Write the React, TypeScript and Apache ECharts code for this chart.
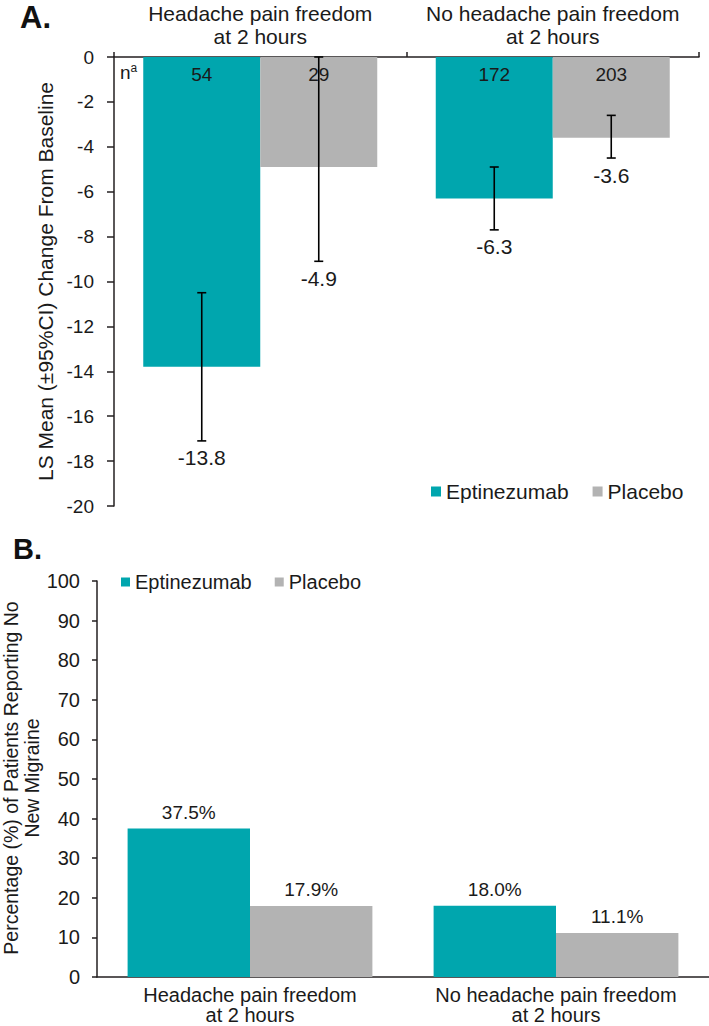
import React, { useEffect, useRef } from "react";
import * as echarts from "echarts";

// ---------- Data ----------
const categories = ["Headache pain freedom\nat 2 hours", "No headache pain freedom\nat 2 hours"];
const seriesNames = ["Eptinezumab", "Placebo"];

// Panel A: LS mean change from baseline
const lsMeanEpti = [-13.8, -6.3];
const lsMeanPlacebo = [-4.9, -3.6];
const ciLowEpti = [-17.1, -7.7];
const ciHighEpti = [-10.5, -4.9];
const ciLowPlacebo = [-9.1, -4.5];
const ciHighPlacebo = [0, -2.6];
const nEpti = [54, 172];
const nPlacebo = [29, 203];
const yTicksA = { min: -20, max: 0, interval: 2 };

// Panel B: percentage reporting no new migraine
const pctEpti = [37.5, 18.0];
const pctPlacebo = [17.9, 11.1];
const yTicksB = { min: 0, max: 100, interval: 10 };
const yTitleB = "Percentage (%) of Patients Reporting No\nNew Migraine";

const TEAL = "#00A6AE";
const GRAY = "#B3B3B3";
const INK = "#1a1a1a";
const AXIS = "#231F20";
const FONT = "'Liberation Sans', Arial, sans-serif";

export default function App() {
  const ref = useRef<HTMLDivElement>(null);

  useEffect(() => {
    document.body.style.margin = "0";
    if (!ref.current) return;
    const chart = echarts.init(ref.current, undefined, { renderer: "svg" });

    const errData: any[] = [];
    for (let i = 0; i < categories.length; i++) {
      errData.push([i, 0, ciLowEpti[i], ciHighEpti[i], lsMeanEpti[i]]);
      errData.push([i, 1, ciLowPlacebo[i], ciHighPlacebo[i], lsMeanPlacebo[i]]);
    }
    const nData: any[] = [];
    for (let i = 0; i < categories.length; i++) {
      nData.push([i, 0, nEpti[i]]);
      nData.push([i, 1, nPlacebo[i]]);
    }

    const option: any = {
      animation: false,
      textStyle: { fontFamily: FONT, color: INK },
      graphic: [
        { type: "text", left: 20, top: 2, style: { text: "A.", font: `bold 31px ${FONT}`, fill: "#111" } },
        { type: "text", left: 13, top: 534, style: { text: "B.", font: `bold 29px ${FONT}`, fill: "#111" } },
        {
          type: "text",
          x: 21.5,
          y: 778,
          rotation: Math.PI / 2,
          style: {
            text: yTitleB,
            align: "center",
            verticalAlign: "middle",
            fontSize: 19.5,
            lineHeight: 21,
            fontFamily: FONT,
            fill: INK,
          },
        },
        {
          type: "text",
          left: 120,
          top: 62,
          style: {
            text: "{n|n}{s|a}",
            rich: {
              n: { fontSize: 19, fontFamily: FONT, fill: INK, verticalAlign: "bottom" },
              s: { fontSize: 12, fontFamily: FONT, fill: INK, verticalAlign: "top", padding: [0, 0, 8, 0] },
            },
          },
        },
      ],
      legend: [
        {
          data: seriesNames,
          left: 431,
          top: 481,
          padding: 0,
          icon: "rect",
          itemWidth: 10,
          itemHeight: 10,
          itemGap: 24,
          selectedMode: false,
          textStyle: { fontSize: 21, fontFamily: FONT, color: INK },
        },
        {
          data: seriesNames,
          left: 121,
          top: 572,
          padding: 0,
          icon: "rect",
          itemWidth: 9,
          itemHeight: 9,
          itemGap: 23,
          selectedMode: false,
          textStyle: { fontSize: 20, fontFamily: FONT, color: INK },
        },
      ],
      grid: [
        { left: 114, top: 57, width: 585, height: 449, containLabel: false, outerBoundsMode: "none" },
        { left: 97, top: 581, width: 612, height: 396, containLabel: false, outerBoundsMode: "none" },
      ],
      xAxis: [
        {
          type: "category",
          gridIndex: 0,
          data: categories,
          position: "top",
          axisLine: { show: true, onZero: false, lineStyle: { color: AXIS, width: 1.5 } },
          axisTick: { show: true, length: 5, lineStyle: { color: AXIS, width: 1.5 } },
          axisLabel: { fontSize: 21, lineHeight: 23, color: INK, margin: 9, fontFamily: FONT, interval: 0 },
        },
        {
          type: "category",
          gridIndex: 1,
          data: categories,
          position: "bottom",
          axisLine: { show: true, lineStyle: { color: AXIS, width: 1.5 } },
          axisTick: { show: false },
          axisLabel: { fontSize: 20, lineHeight: 20, color: INK, margin: 8, fontFamily: FONT, interval: 0 },
        },
      ],
      yAxis: [
        {
          type: "value",
          gridIndex: 0,
          min: yTicksA.min,
          max: yTicksA.max,
          interval: yTicksA.interval,
          name: "LS Mean (\u00b195%CI) Change From Baseline",
          nameLocation: "middle",
          nameRotate: 90,
          nameGap: 58,
          nameTextStyle: { fontSize: 21, color: INK, fontFamily: FONT },
          axisLine: { show: true, lineStyle: { color: AXIS, width: 1.5 } },
          axisTick: { show: true, length: 7, lineStyle: { color: AXIS, width: 1.5 } },
          axisLabel: { fontSize: 19, color: INK, margin: 20, fontFamily: FONT },
          splitLine: { show: false },
        },
        {
          type: "value",
          gridIndex: 1,
          min: yTicksB.min,
          max: yTicksB.max,
          interval: yTicksB.interval,
          axisLine: { show: true, lineStyle: { color: AXIS, width: 1.5 } },
          axisTick: { show: true, length: 5, lineStyle: { color: AXIS, width: 1.5 } },
          axisLabel: { fontSize: 20, color: INK, margin: 17, fontFamily: FONT },
          splitLine: { show: false },
        },
      ],
      series: [
        {
          name: seriesNames[0],
          type: "bar",
          xAxisIndex: 0,
          yAxisIndex: 0,
          data: lsMeanEpti,
          itemStyle: { color: TEAL },
          barGap: "0%",
          barCategoryGap: "20%",
        },
        {
          name: seriesNames[1],
          type: "bar",
          xAxisIndex: 0,
          yAxisIndex: 0,
          data: lsMeanPlacebo,
          itemStyle: { color: GRAY },
          barGap: "0%",
          barCategoryGap: "20%",
        },
        {
          type: "custom",
          xAxisIndex: 0,
          yAxisIndex: 0,
          data: errData,
          encode: { x: 0, y: [2, 3] },
          z: 10,
          renderItem: (params: any, api: any) => {
            const cat = api.value(0);
            const grp = api.value(1);
            const low = api.value(2);
            const high = api.value(3);
            const mean = api.value(4);
            const catW = api.size([1, 0])[0];
            const off = (grp === 0 ? -1 : 1) * catW * 0.2;
            const pL = api.coord([cat, low]);
            const pH = api.coord([cat, high]);
            const x = pL[0] + off;
            const cap = 4.5;
            const ls = { stroke: "#000", lineWidth: 1.6 };
            return {
              type: "group",
              children: [
                { type: "line", shape: { x1: x, y1: pH[1], x2: x, y2: pL[1] }, style: ls },
                { type: "line", shape: { x1: x - cap, y1: pH[1], x2: x + cap, y2: pH[1] }, style: ls },
                { type: "line", shape: { x1: x - cap, y1: pL[1], x2: x + cap, y2: pL[1] }, style: ls },
                {
                  type: "text",
                  style: {
                    text: mean.toFixed(1),
                    x,
                    y: pL[1] + 17,
                    align: "center",
                    verticalAlign: "middle",
                    fontSize: 21,
                    fontFamily: FONT,
                    fill: INK,
                  },
                },
              ],
            };
          },
        },
        {
          type: "custom",
          xAxisIndex: 0,
          yAxisIndex: 0,
          data: nData,
          encode: { x: 0, y: 1 },
          z: 10,
          renderItem: (params: any, api: any) => {
            const cat = api.value(0);
            const grp = api.value(1);
            const n = api.value(2);
            const catW = api.size([1, 0])[0];
            const off = (grp === 0 ? -1 : 1) * catW * 0.2;
            const p = api.coord([cat, 0]);
            return {
              type: "text",
              style: {
                text: String(n),
                x: p[0] + off,
                y: p[1] + 17,
                align: "center",
                verticalAlign: "middle",
                fontSize: 19,
                fontFamily: FONT,
                fill: INK,
              },
            };
          },
        },
        {
          name: seriesNames[0],
          type: "bar",
          xAxisIndex: 1,
          yAxisIndex: 1,
          data: pctEpti,
          itemStyle: { color: TEAL },
          barGap: "0%",
          barCategoryGap: "20%",
          label: {
            show: true,
            position: "top",
            distance: 7,
            fontSize: 19,
            fontFamily: FONT,
            color: INK,
            formatter: (p: any) => p.value.toFixed(1) + "%",
          },
        },
        {
          name: seriesNames[1],
          type: "bar",
          xAxisIndex: 1,
          yAxisIndex: 1,
          data: pctPlacebo,
          itemStyle: { color: GRAY },
          barGap: "0%",
          barCategoryGap: "20%",
          label: {
            show: true,
            position: "top",
            distance: 7,
            fontSize: 19,
            fontFamily: FONT,
            color: INK,
            formatter: (p: any) => p.value.toFixed(1) + "%",
          },
        },
      ],
    };

    chart.setOption(option);
    return () => chart.dispose();
  }, []);

  return <div ref={ref} style={{ width: 709, height: 1026 }} />;
}
